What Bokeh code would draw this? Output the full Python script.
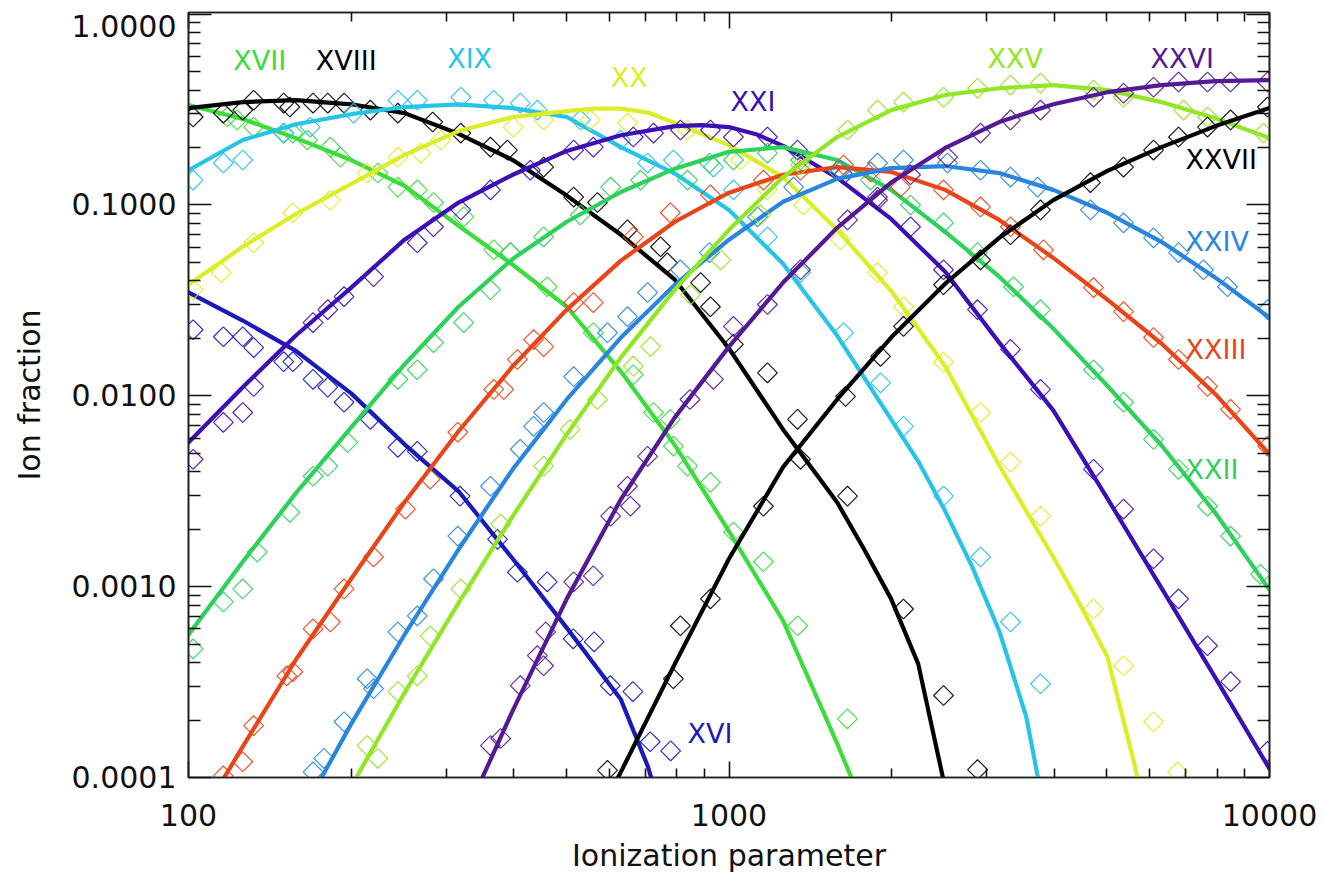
import math

from bokeh.plotting import figure
from bokeh.models import (Range1d, LogAxis, FixedTicker, PrintfTickFormatter,
                          ColumnDataSource)
from bokeh.core.properties import value
from bokeh.embed import file_html
from bokeh.resources import INLINE

# ---------------------------------------------------------------------------
# Fe ion fractions versus ionization parameter.
# fit_*  : smooth fitted curves, (xi, fraction)
# calc_* : computed points drawn as open diamonds, (xi, fraction)
# ---------------------------------------------------------------------------

ions = ["XVI", "XVII", "XVIII", "XIX", "XX", "XXI",
        "XXII", "XXIII", "XXIV", "XXV", "XXVI", "XXVII"]

colors = ["#1a1ab8", "#3cdc3c", "#000000", "#28c4e6", "#dcee26", "#3c10b4",
          "#2ed25a", "#e8461a", "#2a86dc", "#92e626", "#541a96", "#000000"]

fit_xvi = [(100, 0.0348), (126, 0.0248), (158, 0.0172), (200, 0.0103),
           (251, 0.00557), (316, 0.00316), (398, 0.00140), (501, 0.000608),
           (631, 0.000256), (708, 0.000114), (794, 0.000038)]
fit_xvii = [(100, 0.334), (126, 0.282), (158, 0.224), (200, 0.172),
            (251, 0.126), (316, 0.0778), (398, 0.0486), (501, 0.0293),
            (631, 0.0134), (794, 0.00551), (1000, 0.00195), (1259, 0.000663),
            (1585, 0.000151), (1778, 0.000069)]
fit_xviii = [(100, 0.322), (126, 0.346), (158, 0.354), (200, 0.337),
             (251, 0.303), (316, 0.236), (398, 0.172), (501, 0.112),
             (631, 0.0698), (794, 0.0406), (1000, 0.0177), (1259, 0.00667),
             (1585, 0.00277), (1778, 0.00157), (1995, 0.000863),
             (2239, 0.000394), (2512, 0.000088)]
fit_xix = [(100, 0.152), (126, 0.219), (158, 0.265), (200, 0.299),
           (251, 0.326), (316, 0.337), (398, 0.322), (501, 0.289),
           (631, 0.201), (794, 0.146), (1000, 0.0942), (1259, 0.0492),
           (1585, 0.0207), (1995, 0.00753), (2239, 0.00454), (2512, 0.00249),
           (2818, 0.00127), (3162, 0.000586), (3548, 0.000208),
           (3981, 0.000038)]
fit_xx = [(100, 0.0382), (126, 0.0604), (158, 0.0897), (200, 0.129),
          (251, 0.183), (316, 0.244), (398, 0.289), (501, 0.310),
          (562, 0.320), (631, 0.320), (708, 0.305), (794, 0.269),
          (1000, 0.206), (1259, 0.140),
          (1585, 0.0741), (1995, 0.0355), (2512, 0.0143), (3162, 0.00433),
          (3981, 0.00143), (4467, 0.000801), (5012, 0.000430),
          (5623, 0.000118), (6310, 0.000027)]
fit_xxi = [(100, 0.00570), (126, 0.0111), (158, 0.0207), (200, 0.0369),
           (251, 0.0658), (316, 0.103), (398, 0.144), (501, 0.192),
           (631, 0.232), (794, 0.259), (891, 0.262), (1000, 0.256),
           (1122, 0.235), (1259, 0.204),
           (1585, 0.139), (1995, 0.0845), (2512, 0.0447), (3162, 0.0190),
           (3981, 0.00839), (5012, 0.00290), (6310, 0.000985),
           (7943, 0.000333), (10000, 0.000111)]
fit_xxii = [(100, 0.000560), (126, 0.00135), (158, 0.00309), (200, 0.00684),
            (251, 0.0146), (316, 0.0293), (398, 0.0522), (501, 0.0817),
            (631, 0.117), (794, 0.155), (1000, 0.190), (1259, 0.201),
            (1585, 0.172), (1995, 0.120), (2512, 0.0723), (3162, 0.0421),
            (3981, 0.0225), (5012, 0.0113), (6310, 0.00551),
            (7943, 0.00243), (10000, 0.000962)]
fit_xxiii = [(100, 0.000049), (126, 0.000145), (158, 0.000414),
             (200, 0.00110), (251, 0.00277), (316, 0.00652), (398, 0.0143),
             (501, 0.0283), (631, 0.0511), (794, 0.0817), (1000, 0.116),
             (1259, 0.144), (1585, 0.158), (1995, 0.149), (2512, 0.120),
             (3162, 0.0835), (3981, 0.0528), (5012, 0.0319), (6310, 0.0188),
             (7943, 0.0102), (10000, 0.00494)]
fit_xxiv = [(158, 0.000057), (200, 0.000191), (251, 0.000560),
            (316, 0.00157), (398, 0.00412), (501, 0.00957), (631, 0.0202),
            (794, 0.0382), (1000, 0.0658), (1259, 0.104), (1585, 0.137),
            (1995, 0.156), (2512, 0.160), (3162, 0.147), (3981, 0.120),
            (5012, 0.0910), (6310, 0.0641), (7943, 0.0416), (10000, 0.0257)]
fit_xxv = [(200, 0.0000897), (251, 0.000278), (316, 0.000822),
           (398, 0.00234), (501, 0.00628), (631, 0.0159), (794, 0.0360),
           (1000, 0.0741), (1259, 0.140), (1585, 0.227), (1995, 0.314),
           (2512, 0.377), (3162, 0.409), (3981, 0.425), (5012, 0.400),
           (6310, 0.346), (7943, 0.285), (10000, 0.224)]
fit_xxvi = [(316, 0.000053), (398, 0.000224), (501, 0.000863),
            (631, 0.00287), (794, 0.00771), (1000, 0.0181), (1259, 0.0392),
            (1585, 0.0759), (1995, 0.131), (2512, 0.199), (3162, 0.272),
            (3981, 0.337), (5012, 0.390), (6310, 0.425), (7943, 0.446),
            (10000, 0.451)]
fit_xxvii = [(501, 0.000030), (631, 0.000107), (794, 0.000394),
             (1000, 0.00140), (1259, 0.00423), (1585, 0.00957),
             (1995, 0.0202), (2512, 0.0387), (3162, 0.0673), (3981, 0.106),
             (5012, 0.151), (6310, 0.201), (7943, 0.259), (10000, 0.322)]

calc_xvi = [(102, 0.0222), (116, 0.0204), (126, 0.0204), (132, 0.0179),
            (150, 0.0151), (156, 0.0151), (170, 0.0122), (181, 0.0111),
            (194, 0.00925), (217, 0.00753), (244, 0.00537), (265, 0.00512),
            (318, 0.00298), (373, 0.00177), (406, 0.00119), (461, 0.00106),
            (515, 0.000533), (563, 0.000514), (603, 0.000303),
            (664, 0.000282), (715, 0.000154), (780, 0.000138)]
calc_xvii = [(118, 0.289), (123, 0.279), (132, 0.256), (150, 0.238),
             (156, 0.238), (166, 0.219), (183, 0.201), (191, 0.178),
             (224, 0.147), (244, 0.124), (265, 0.120), (284, 0.103),
             (323, 0.0867), (367, 0.0582), (394, 0.0563), (461, 0.0373),
             (561, 0.0214), (665, 0.0129), (725, 0.00818), (779, 0.00753),
             (789, 0.00545), (838, 0.00428), (924, 0.00352), (1019, 0.00193),
             (1158, 0.00135), (1340, 0.000624), (1656, 0.000203)]
calc_xviii = [(102, 0.289), (116, 0.303), (126, 0.314), (132, 0.354),
              (150, 0.342), (154, 0.326), (170, 0.342), (181, 0.342),
              (194, 0.342), (217, 0.314), (244, 0.303), (283, 0.272),
              (319, 0.238), (362, 0.201), (389, 0.194), (454, 0.158),
              (516, 0.110), (571, 0.103), (649, 0.0741), (747, 0.0604),
              (769, 0.0498), (886, 0.0392), (924, 0.0293), (1019, 0.0186),
              (1178, 0.0132), (1339, 0.00753), (1657, 0.00298),
              (2103, 0.000764), (2494, 0.000269), (2883, 0.000110)]
calc_xix = [(102, 0.135), (116, 0.166), (126, 0.172), (150, 0.238),
            (168, 0.256), (202, 0.303), (244, 0.354), (265, 0.354),
            (319, 0.367), (367, 0.354), (411, 0.342), (442, 0.314),
            (531, 0.279), (630, 0.219), (707, 0.166), (789, 0.172),
            (936, 0.158), (1019, 0.120), (1178, 0.0681), (1356, 0.0442),
            (1629, 0.0214), (1907, 0.0117), (2103, 0.00692), (2494, 0.00298),
            (2920, 0.00143), (3318, 0.000653), (3770, 0.000310)]
calc_xx = [(102, 0.0360), (115, 0.0442), (132, 0.0634), (156, 0.0910),
           (183, 0.106), (214, 0.147), (244, 0.178), (269, 0.187),
           (293, 0.219), (399, 0.256), (454, 0.279), (554, 0.279),
           (649, 0.269), (838, 0.247), (1050, 0.172), (1178, 0.120),
           (1373, 0.100), (1608, 0.0658), (1883, 0.0442), (2103, 0.0293),
           (2494, 0.0150), (2920, 0.00818), (3318, 0.00449), (3770, 0.00234),
           (4725, 0.000764), (5370, 0.000385), (6102, 0.000196),
           (6760, 0.000107)]
calc_xxi = [(102, 0.00465), (116, 0.00726), (126, 0.00818), (132, 0.0112),
            (170, 0.0242), (181, 0.0283), (194, 0.0331), (220, 0.0421),
            (265, 0.0634), (284, 0.0769), (319, 0.0942), (362, 0.120),
            (429, 0.152), (516, 0.194), (561, 0.201), (665, 0.227),
            (725, 0.238), (813, 0.247), (924, 0.247), (1019, 0.227),
            (1178, 0.227), (1339, 0.194), (1629, 0.144), (1883, 0.106),
            (2167, 0.0769), (2494, 0.0458), (2883, 0.0283), (3318, 0.0175),
            (3770, 0.0108), (4725, 0.00412), (5370, 0.00255), (6102, 0.00140),
            (6788, 0.000863), (7679, 0.000490), (8472, 0.000318),
            (9915, 0.000137)]
calc_xxii = [(102, 0.000472), (116, 0.000832), (126, 0.000973),
             (134, 0.00152), (154, 0.00245), (170, 0.00379), (181, 0.00428),
             (197, 0.00570), (244, 0.0122), (265, 0.0137), (284, 0.0190),
             (323, 0.0242), (362, 0.0360), (394, 0.0563), (454, 0.0681),
             (531, 0.0887), (604, 0.124), (686, 0.135), (838, 0.135),
             (920, 0.166), (1019, 0.172), (1178, 0.187), (1356, 0.172),
             (1588, 0.152), (1827, 0.135), (2167, 0.100), (2494, 0.0806),
             (2883, 0.0563), (3360, 0.0373), (3770, 0.0283), (4725, 0.0137),
             (5370, 0.00925), (6102, 0.00591), (6788, 0.00412),
             (7679, 0.00264), (8472, 0.00184), (9623, 0.00116)]
calc_xxiii = [(116, 0.000102), (126, 0.000121), (132, 0.000187),
              (152, 0.000341), (156, 0.000358), (170, 0.000601),
              (183, 0.000653), (194, 0.000973), (220, 0.00143),
              (252, 0.00255), (280, 0.00366), (315, 0.00644), (367, 0.0108),
              (383, 0.0108), (406, 0.0155), (435, 0.0197), (454, 0.0181),
              (516, 0.0308), (561, 0.0308), (665, 0.0681), (779, 0.0910),
              (924, 0.113), (1158, 0.135), (1356, 0.152), (1629, 0.162),
              (1827, 0.149), (2076, 0.124), (2494, 0.120), (2920, 0.0977),
              (3318, 0.0769), (3819, 0.0582), (4725, 0.0369), (5370, 0.0276),
              (6102, 0.0202), (6788, 0.0155), (7679, 0.0112), (8472, 0.00849),
              (9915, 0.00545)]
calc_xxiv = [(170, 0.000107), (178, 0.000126), (194, 0.000196),
             (214, 0.000329), (220, 0.000292), (244, 0.000579),
             (265, 0.000703), (284, 0.00110), (315, 0.00184), (362, 0.00336),
             (411, 0.00525), (435, 0.00692), (454, 0.00818), (516, 0.0126),
             (596, 0.0214), (649, 0.0260), (707, 0.0348), (813, 0.0458),
             (920, 0.0563), (1129, 0.0867), (1317, 0.124), (1608, 0.152),
             (1883, 0.166), (2103, 0.172), (2537, 0.166), (2920, 0.152),
             (3318, 0.140), (3723, 0.124), (4664, 0.0942), (5370, 0.0806),
             (6102, 0.0673), (6788, 0.0563), (7548, 0.0458), (8362, 0.0373),
             (9915, 0.0283)]
calc_xxv = [(214, 0.000147), (224, 0.000126), (244, 0.000282),
            (265, 0.000341), (280, 0.000552), (319, 0.000973),
            (378, 0.00213), (454, 0.00428), (508, 0.00667), (571, 0.00957),
            (665, 0.0143), (716, 0.0181), (849, 0.0339), (965, 0.0516),
            (1144, 0.0887), (1356, 0.162), (1657, 0.247), (1883, 0.314),
            (2103, 0.346), (2494, 0.367), (2883, 0.409), (3318, 0.425),
            (3770, 0.435), (4725, 0.400), (5370, 0.367), (6934, 0.314),
            (7679, 0.289), (9748, 0.238)]
calc_xxvi = [(362, 0.000147), (378, 0.000160), (411, 0.000303),
             (442, 0.000435), (454, 0.000385), (458, 0.000579),
             (516, 0.00106), (561, 0.00114), (604, 0.00234), (657, 0.00264),
             (649, 0.00336), (707, 0.00482), (847, 0.00957), (936, 0.0122),
             (1019, 0.0231), (1178, 0.0301), (1356, 0.0458), (1657, 0.0835),
             (1883, 0.110), (2167, 0.144), (2537, 0.178), (2920, 0.238),
             (3318, 0.279), (3770, 0.314), (4725, 0.367), (5370, 0.385),
             (6102, 0.414), (6788, 0.441), (7679, 0.441), (8472, 0.441),
             (9915, 0.441)]
calc_xxvii = [(596, 0.000109), (789, 0.000329), (813, 0.000624),
              (924, 0.000863), (1158, 0.00264), (1356, 0.00465),
              (1643, 0.00993), (1907, 0.0161), (2103, 0.0231), (2494, 0.0382),
              (2920, 0.0516), (3318, 0.0698), (3770, 0.0942), (4664, 0.131),
              (5370, 0.158), (6102, 0.194), (6788, 0.227), (7679, 0.256),
              (8472, 0.279), (9915, 0.326)]

fits = [fit_xvi, fit_xvii, fit_xviii, fit_xix, fit_xx, fit_xxi,
        fit_xxii, fit_xxiii, fit_xxiv, fit_xxv, fit_xxvi, fit_xxvii]
calcs = [calc_xvi, calc_xvii, calc_xviii, calc_xix, calc_xx, calc_xxi,
         calc_xxii, calc_xxiii, calc_xxiv, calc_xxv, calc_xxvi, calc_xxvii]

# Ion name labels: (xi of left edge, fraction at text middle)
label_xi = [838, 121, 172, 301, 604, 1006, 6993, 6993, 6993, 3008, 6025, 6993]
label_frac = [0.000170, 0.573, 0.573, 0.587, 0.468, 0.350,
              0.00412, 0.0175, 0.0641, 0.587, 0.587, 0.174]

# Axis ticks
x_major = [100, 1000, 10000]
x_minor = [m * d for d in (100, 1000) for m in range(2, 10)]
y_major = [0.0001, 0.001, 0.01, 0.1, 1.0]
y_minor = [m * d for d in (0.0001, 0.001, 0.01, 0.1) for m in range(2, 10)]

FONT = "DejaVu Sans"

p = figure(width=1323, height=875,
           x_axis_type="log", y_axis_type="log",
           x_range=Range1d(100, 10000), y_range=Range1d(0.0001, 1.02),
           output_backend="svg", toolbar_location=None,
           min_border_left=188, min_border_right=54,
           min_border_top=12, min_border_bottom=96)
p.grid.visible = False
p.background_fill_color = "white"
p.border_fill_color = "white"
p.outline_line_color = "#222222"
p.outline_line_width = 1.6


def style_axis(ax, major_len, minor_len):
    ax.major_tick_in = major_len
    ax.major_tick_out = 0
    ax.minor_tick_in = minor_len
    ax.minor_tick_out = 0
    ax.major_tick_line_color = "#111111"
    ax.minor_tick_line_color = "#111111"
    ax.major_tick_line_width = 1.6
    ax.minor_tick_line_width = 1.6
    ax.axis_line_color = "#222222"
    ax.axis_line_width = 1.6


xa = p.xaxis[0]
xa.ticker = FixedTicker(ticks=x_major, minor_ticks=x_minor)
xa.formatter = PrintfTickFormatter(format="%d")
style_axis(xa, 16, 9)
xa.major_label_text_font = FONT
xa.major_label_text_font_size = "30px"
xa.major_label_text_color = "#111111"
xa.major_label_standoff = 26
xa.axis_label = "Ionization parameter"
xa.axis_label_text_font = FONT
xa.axis_label_text_font_size = "30px"
xa.axis_label_text_font_style = "normal"
xa.axis_label_text_color = "#111111"
xa.axis_label_standoff = 9

ya = p.yaxis[0]
ya.ticker = FixedTicker(ticks=y_major, minor_ticks=y_minor)
ya.formatter = PrintfTickFormatter(format="%.4f")
# the top label is pushed down a little so it stays on the canvas
ya.major_label_overrides = {1.0: "\n1.0000"}
ya.major_label_text_line_height = 0.25
style_axis(ya, 23, 12)
ya.major_label_text_font = FONT
ya.major_label_text_font_size = "30px"
ya.major_label_text_color = "#111111"
ya.major_label_standoff = 12
ya.axis_label = "Ion fraction"
ya.axis_label_text_font = FONT
ya.axis_label_text_font_size = "30px"
ya.axis_label_text_font_style = "normal"
ya.axis_label_text_color = "#111111"
ya.axis_label_standoff = 22

# Mirror ticks on the top and right edges, labels kept invisible
top = LogAxis(ticker=FixedTicker(ticks=x_major, minor_ticks=x_minor),
              major_label_text_font_size="2px", major_label_text_alpha=0.0,
              major_label_standoff=0)
style_axis(top, 16, 9)
p.add_layout(top, "above")

right = LogAxis(ticker=FixedTicker(ticks=y_major, minor_ticks=y_minor),
                major_label_text_font_size="2px", major_label_text_alpha=0.0,
                major_label_standoff=0)
style_axis(right, 23, 12)
p.add_layout(right, "right")

# Curves and computed points, one ion after another
for fit, calc, color in zip(fits, calcs, colors):
    p.line([a for a, _ in fit], [b for _, b in fit],
           line_color=color, line_width=4.2, line_join="round",
           line_cap="round")
    p.scatter([a for a, _ in calc], [b for _, b in calc],
              marker="square", angle=math.pi / 4, size=14,
              fill_color=None, line_color=color, line_width=1.2,
              line_alpha=0.9)

labels = ColumnDataSource(dict(x=label_xi, y=label_frac, text=ions,
                               color=colors))
p.text(x="x", y="y", text="text", source=labels, text_color="color",
       text_font=value(FONT), text_font_size="27px",
       text_baseline="middle", text_align="left")

open("out.html", "w").write(file_html(p, INLINE))
